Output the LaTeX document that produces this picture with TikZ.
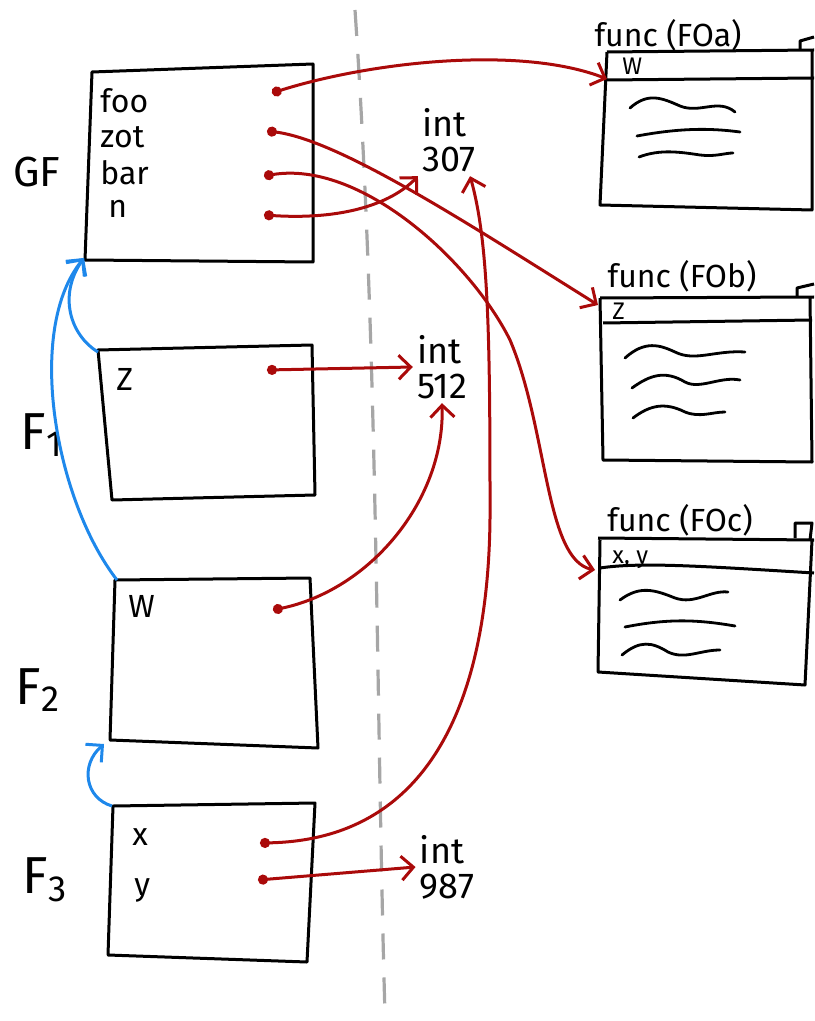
\documentclass[tikz,border=0pt]{standalone}
\usepackage{fontspec}
\setmainfont{Fira Sans}
\usetikzlibrary{arrows.meta}
\definecolor{ptrred}{RGB}{170,10,10}
\definecolor{linkblue}{RGB}{30,136,235}
\tikzset{
  box/.style={draw,line width=1.5pt,line join=round},
  fld/.style={font=\fontsize{16}{18}\selectfont,inner sep=0pt,anchor=base west},
  hdr/.style={font=\fontsize{12}{14}\selectfont,inner sep=0pt,anchor=base west},
  frm/.style={font=\fontsize{26}{28}\selectfont,inner sep=0pt},
  val/.style={font=\fontsize{18}{17.5}\selectfont,inner sep=2pt,align=left},
  fname/.style={font=\fontsize{16}{18}\selectfont,inner sep=0pt},
  ptr/.style={ptrred,line width=1.5pt,{Circle[length=5pt]}-{Straight Barb[length=6pt,width=12pt]}},
  link/.style={linkblue,line width=1.5pt,-{Straight Barb[length=6pt,width=12pt]}},
  wave/.style={line width=1.4pt,line cap=round},
}
\begin{document}
\begin{tikzpicture}[x=0.5pt,y=-0.5pt]
  \useasboundingbox (0,0) rectangle (814,1021);
  % stack / heap divide
  \draw[gray!70,line width=1.6pt,dash pattern=on 13pt off 9pt] (355,10) .. controls (378,350) and (376,700) .. (385,1015);

  % frames
  \draw[box] (92,72) -- (313,64) -- (313,262) -- (85,260) -- cycle;
  \draw[box] (98,350) -- (312,345) -- (315,495) -- (112,500) -- cycle;
  \draw[box] (115,580) -- (310,578) -- (318,748) -- (110,740) -- cycle;
  \draw[box] (113,806) -- (315,803) -- (307,962) -- (108,955) -- cycle;
  \node[frm,font=\fontsize{21}{23}\selectfont] (gf) at (37,172) {GF};
  \node[frm] (f1) at (42,435) {F\textsubscript{1}};
  \node[frm] (f2) at (38,690) {F\textsubscript{2}};
  \node[frm] (f3) at (45,880) {F\textsubscript{3}};
  \coordinate (gf-sw) at (84,258);
  \coordinate (f1-nw) at (98,352);
  \coordinate (f2-nw) at (117,580);
  \coordinate (f2-sw) at (104,744);
  \coordinate (f3-nw) at (112,806);

  % variables
  \node[fld] (foo) at (100,113) {foo};
  \node[fld] (zot) at (100,148) {zot};
  \node[fld] (bar) at (100,185) {bar};
  \node[fld] (n) at (108,218) {n};
  \node[fld] (z) at (116,390) {Z};
  \node[fld] (w) at (128,617) {W};
  \node[fld] (x) at (132,845) {x};
  \node[fld] (y) at (134,895) {y};
  \coordinate (foo-p) at (272,93);
  \coordinate (zot-p) at (267,131);
  \coordinate (bar-p) at (264,176);
  \coordinate (n-p) at (264,215);
  \coordinate (z-p) at (267,370);
  \coordinate (w-p) at (273,610);
  \coordinate (x-p) at (260,843);
  \coordinate (y-p) at (258,880);

  % values
  \node[val] (v307) at (449,140) {int\\307};
  \node[val] (v512) at (442,367) {int\\512};
  \node[val] (v987) at (447,867) {int\\987};

  % function objects
  \node[fname] (fa) at (668,35) {func (FOa)};
  \draw[box] (607,52) -- (814,50) (607,52) -- (600,205) -- (812,210) -- (812,50);
  \draw[box] (607,80) -- (814,78);
  \draw[box] (800,50) -- (800,41) -- (814,37);
  \node[hdr] (fa-w) at (622,75) {W};
  \coordinate (fa-in) at (607,79);
  \draw[wave] (630,108) .. controls (648,92) and (662,98) .. (680,106) .. controls (700,114) and (718,98) .. (735,112);
  \draw[wave] (637,136) .. controls (680,128) and (710,128) .. (740,132);
  \draw[wave] (639,157) .. controls (660,149) and (680,152) .. (700,155) .. controls (715,157) and (725,153) .. (733,153);

  \node[fname] (fb) at (682,276) {func (FOb)};
  \draw[box] (600,298) -- (814,297) (600,298) -- (603,460) -- (812,462) -- (810,297);
  \draw[box] (603,323) -- (812,320);
  \draw[box] (797,297) -- (797,288) -- (814,284);
  \node[hdr] (fb-z) at (612,320) {Z};
  \coordinate (fb-in) at (598,305);
  \draw[wave] (625,358) .. controls (645,340) and (660,345) .. (675,352) .. controls (695,362) and (715,350) .. (745,352);
  \draw[wave] (632,388) .. controls (650,375) and (665,370) .. (685,382) .. controls (700,390) and (720,376) .. (740,380);
  \draw[wave] (633,418) .. controls (650,405) and (665,402) .. (685,412) .. controls (700,418) and (712,412) .. (725,412);

  \node[fname] (fc) at (680,520) {func (FOc)};
  \draw[box] (598,538) -- (814,540) (600,540) -- (598,672) -- (805,685) -- (812,540);
  \draw[box] (600,568) .. controls (640,562) and (700,566) .. (814,573);
  \draw[box] (795,538) -- (795,523) -- (812,523) -- (810,540);
  \node[hdr] (fc-xy) at (612,563) {x, y};
  \coordinate (fc-in) at (595,570);
  \draw[wave] (620,600) .. controls (640,585) and (655,590) .. (675,598) .. controls (695,605) and (710,590) .. (728,592);
  \draw[wave] (625,627) .. controls (670,618) and (700,620) .. (735,626);
  \draw[wave] (622,655) .. controls (640,640) and (652,642) .. (668,652) .. controls (685,660) and (700,650) .. (720,650);

  % references
  \draw[ptr] (foo-p) .. controls (370,62) and (520,45) .. (fa-in);
  \draw[ptr] (zot-p) .. controls (340,140) and (470,225) .. (fb-in);
  \draw[ptr] (bar-p) .. controls (360,160) and (470,260) .. (510,340) .. controls (548,430) and (545,560) .. (fc-in);
  \draw[ptr] (n-p) .. controls (340,220) and (390,205) .. (v307.south west);
  \draw[ptr] (z-p) -- (v512.west);
  \draw[ptr] (w-p) .. controls (370,590) and (445,500) .. (v512.south);
  \draw[ptr] (x-p) .. controls (430,840) and (492,700) .. (490,500) .. controls (490,330) and (488,240) .. ([xshift=-5pt]v307.south east);
  \draw[ptr] (y-p) -- (v987.west);

  % frame links
  \draw[link] (f1-nw) .. controls (70,335) and (58,295) .. (gf-sw);
  \draw[link] (f2-nw) .. controls (55,500) and (25,330) .. (gf-sw);
  \draw[link] (f3-nw) .. controls (85,798) and (80,765) .. (f2-sw);
\end{tikzpicture}
\end{document}
